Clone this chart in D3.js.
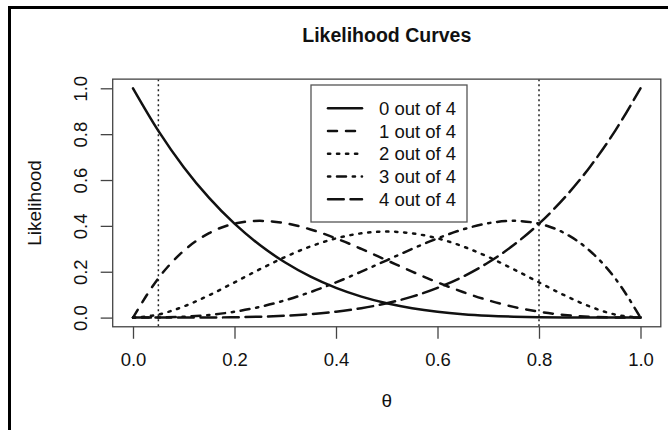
<!DOCTYPE html>
<html>
<head>
<meta charset="utf-8">
<script src="https://cdn.jsdelivr.net/npm/d3@7"></script>
<style>
  html, body { margin: 0; padding: 0; background: #fff; }
  svg { display: block; }
  text { font-family: "Liberation Sans", Arial, Helvetica, sans-serif; fill: #111; }
</style>
</head>
<body>
<svg id="chart" width="668" height="430"></svg>
<script>
// ---- Data ----
const theta = [0, 0.05, 0.10, 0.15, 0.20, 0.25, 0.30, 0.35, 0.40, 0.45, 0.50,
               0.55, 0.60, 0.65, 0.70, 0.75, 0.80, 0.85, 0.90, 0.95, 1.00];
const seriesNames = ["0 out of 4", "1 out of 4", "2 out of 4", "3 out of 4", "4 out of 4"];
const like0 = [1.0000, 0.8145, 0.6561, 0.5220, 0.4096, 0.3164, 0.2401, 0.1785, 0.1296, 0.0915, 0.0625,
               0.0410, 0.0256, 0.0150, 0.0081, 0.0039, 0.0016, 0.0005, 0.0001, 0.0000, 0.0000];
const like1 = [0.0000, 0.1715, 0.2916, 0.3685, 0.4096, 0.4219, 0.4116, 0.3845, 0.3456, 0.2995, 0.2500,
               0.2005, 0.1536, 0.1115, 0.0756, 0.0469, 0.0256, 0.0115, 0.0036, 0.0005, 0.0000];
const like2 = [0.0000, 0.0135, 0.0486, 0.0975, 0.1536, 0.2109, 0.2646, 0.3105, 0.3456, 0.3675, 0.3750,
               0.3675, 0.3456, 0.3105, 0.2646, 0.2109, 0.1536, 0.0975, 0.0486, 0.0135, 0.0000];
const like3 = [0.0000, 0.0005, 0.0036, 0.0115, 0.0256, 0.0469, 0.0756, 0.1115, 0.1536, 0.2005, 0.2500,
               0.2995, 0.3456, 0.3845, 0.4116, 0.4219, 0.4096, 0.3685, 0.2916, 0.1715, 0.0000];
const like4 = [0.0000, 0.0000, 0.0001, 0.0005, 0.0016, 0.0039, 0.0081, 0.0150, 0.0256, 0.0410, 0.0625,
               0.0915, 0.1296, 0.1785, 0.2401, 0.3164, 0.4096, 0.5220, 0.6561, 0.8145, 1.0000];
const vLines = [0.05, 0.8];
const xTicks = [0, 0.2, 0.4, 0.6, 0.8, 1.0];
const yTicks = [0, 0.2, 0.4, 0.6, 0.8, 1.0];
const titleText = "Likelihood Curves";
const xLabel = "\u03b8";
const yLabel = "Likelihood";

// ---- Styles ----
const FONT = "'Liberation Sans', Arial, Helvetica, sans-serif";
const LW = 2.5;
const dashes = ["none", "9,9", "2.25,6.75", "2.25,6.75,9,6.75", "15.75,6.75"];
const allSeries = [like0, like1, like2, like3, like4];

const svg = d3.select("#chart");
const x = d3.scaleLinear().domain([0, 1]).range([133, 640.5]);
const y = d3.scaleLinear().domain([0, 1]).range([317.6, 88.3]);
const x0 = x(-0.04), x1 = x(1.04), yB = y(-0.04), yT = y(1.04);

// outer image frame (left + top)
svg.append("path").attr("d", `M9.5,430 V7.5 H668`)
  .attr("fill", "none").attr("stroke", "#000").attr("stroke-width", 3);

// title
svg.append("text").attr("x", (x0 + x1) / 2).attr("y", 42)
  .attr("text-anchor", "middle").attr("font-weight", "bold").attr("font-size", 19.5)
  .attr("font-family", FONT).text(titleText);

// clip for curves
svg.append("clipPath").attr("id", "clip").append("rect")
  .attr("x", x0).attr("y", yT).attr("width", x1 - x0).attr("height", yB - yT);

// vertical dotted lines
svg.append("g").attr("clip-path", "url(#clip)").selectAll("line").data(vLines).join("line")
  .attr("x1", d => x(d)).attr("x2", d => x(d)).attr("y1", yT).attr("y2", yB)
  .attr("stroke", "#222").attr("stroke-width", 1.5).attr("stroke-dasharray", "2,3");

// curves
const line = d3.line().x((d, i) => x(theta[i])).y(d => y(d)).curve(d3.curveMonotoneX);
svg.append("g").attr("clip-path", "url(#clip)").selectAll("path").data(allSeries).join("path")
  .attr("d", d => line(d))
  .attr("fill", "none").attr("stroke", "#111").attr("stroke-width", LW)
  .attr("stroke-linecap", "round").attr("stroke-linejoin", "round")
  .attr("stroke-dasharray", (d, i) => dashes[i]);

// plot box
svg.append("rect").attr("x", x0).attr("y", yT).attr("width", x1 - x0).attr("height", yB - yT)
  .attr("fill", "none").attr("stroke", "#444").attr("stroke-width", 1.3);

// x axis
const xAxis = d3.axisBottom(x).tickValues(xTicks).tickFormat(d3.format(".1f"))
  .tickSize(12).tickPadding(14);
const gx = svg.append("g").attr("transform", `translate(0,${yB})`).call(xAxis)
  .attr("font-family", FONT).attr("font-size", 18.5);
gx.select(".domain").remove();
gx.selectAll(".tick line").attr("stroke", "#444").attr("stroke-width", 1.3);
gx.selectAll(".tick text").attr("font-size", 18.5).attr("fill", "#111").attr("font-family", FONT);

// y axis
const yAxis = d3.axisLeft(y).tickValues(yTicks).tickFormat(d3.format(".1f"))
  .tickSize(12).tickPadding(0);
const gy = svg.append("g").attr("transform", `translate(${x0},0)`).call(yAxis)
  .attr("font-family", FONT).attr("font-size", 18.5);
gy.select(".domain").remove();
gy.selectAll(".tick line").attr("stroke", "#444").attr("stroke-width", 1.3);
gy.selectAll(".tick text").attr("font-size", 18.5).attr("fill", "#111").attr("font-family", FONT)
  .attr("x", null).attr("dy", null).attr("text-anchor", "middle")
  .attr("transform", `translate(${87 - x0},0) rotate(-90)`);

// axis labels
svg.append("text").attr("x", (x0 + x1) / 2).attr("y", 407)
  .attr("text-anchor", "middle").attr("font-size", 19)
  .attr("font-family", "'Liberation Serif', 'DejaVu Serif', serif").text(xLabel);
svg.append("text").attr("transform", `translate(41,${(yT + yB) / 2}) rotate(-90)`)
  .attr("text-anchor", "middle").attr("font-size", 19).attr("font-family", FONT).text(yLabel);

// legend
const lg = svg.append("g");
lg.append("rect").attr("x", 311).attr("y", 85).attr("width", 156).attr("height", 137)
  .attr("fill", "#fff").attr("stroke", "#555").attr("stroke-width", 1.3);
const rowY = i => 108.3 + i * 22.75;
lg.selectAll("line.sample").data(seriesNames).join("line").attr("class", "sample")
  .attr("x1", 328).attr("x2", 362).attr("y1", (d, i) => rowY(i)).attr("y2", (d, i) => rowY(i))
  .attr("stroke", "#111").attr("stroke-width", LW).attr("stroke-linecap", "round")
  .attr("stroke-dasharray", (d, i) => dashes[i]);
lg.selectAll("text").data(seriesNames).join("text")
  .attr("x", 379).attr("y", (d, i) => rowY(i) + 6.5)
  .attr("font-size", 18.5).attr("font-family", FONT).text(d => d);
</script>
</body>
</html>
